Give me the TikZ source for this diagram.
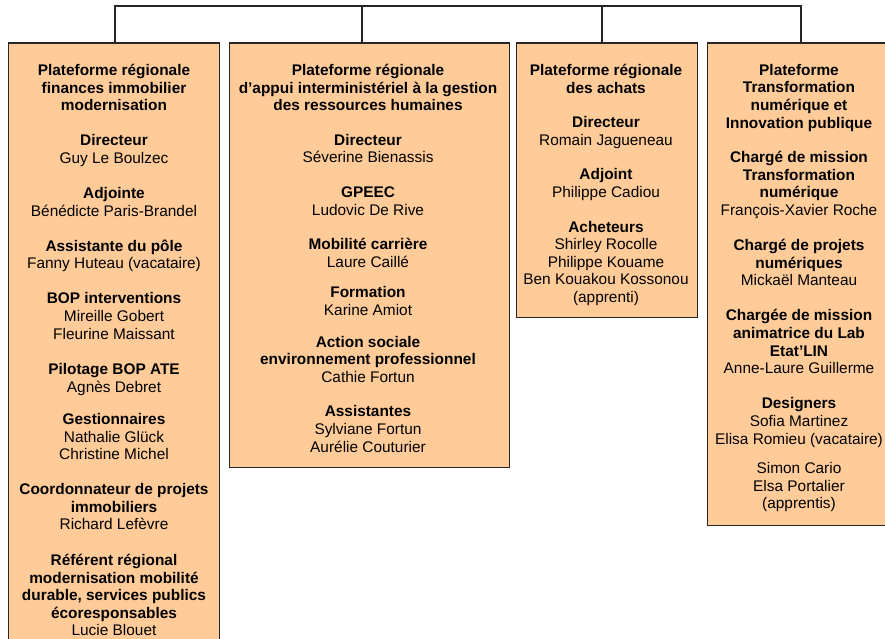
\documentclass[tikz,border=0pt]{standalone}
\usepackage{fontspec}
\setmainfont{Liberation Sans}
\usetikzlibrary{positioning}
\definecolor{peach}{RGB}{255,204,153}

\begin{document}
\begin{tikzpicture}[x=1pt,y=1pt,yscale=-1,
  pole/.style = {draw=black!85, line width=1.3pt, fill=peach,
  anchor=north west, inner sep=0pt},
  info/.style = {align=center, anchor=north, inner sep=0pt,
  font=\fontsize{15.4}{17.6}\selectfont},
  link/.style = {line width=1.3pt, draw=black!85}]
  \useasboundingbox (0,0) rectangle (885,639);

  \node[pole, minimum width=211pt, minimum height=610pt] (b1) at (8,42.5) {};
  \node[pole, minimum width=280pt, minimum height=424.5pt] (b2) at (229,42.5) {};
  \node[pole, minimum width=181pt, minimum height=274.5pt] (b3) at (516,42.5) {};
  \node[pole, minimum width=186pt, minimum height=482.5pt] (b4) at (707,42.5) {};

  \coordinate (p1) at (115,6);
  \coordinate (p2) at (362,6);
  \coordinate (p3) at (602,6);
  \coordinate (p4) at (801,6);
  \draw[link] (p1 |- b1.north) -- (p1) -- (p4) -- (p4 |- b4.north);
  \foreach \i in {2,3}
    \draw[link] (p\i) -- (p\i |- b\i.north);

  \node[info] (t1) at (114,64) {\textbf{Plateforme régionale}\\
    \textbf{finances immobilier}\\ \textbf{modernisation}\\[17.5pt]
    \textbf{Directeur}\\ Guy Le Boulzec\\[17.5pt]
    \textbf{Adjointe}\\ Bénédicte Paris-Brandel\\[17.5pt]
    \textbf{Assistante du pôle}\\ Fanny Huteau (vacataire)\\[17.5pt]
    \textbf{BOP interventions}\\ Mireille Gobert\\ Fleurine Maissant\\[18pt]
    \textbf{Pilotage BOP ATE}\\ Agnès Debret\\[14.5pt]
    \textbf{Gestionnaires}\\ Nathalie Glück\\ Christine Michel\\[17.5pt]
    \textbf{Coordonnateur de projets}\\ \textbf{immobiliers}\\
    Richard Lefèvre\\[18pt]
    \textbf{Référent régional}\\ \textbf{modernisation mobilité}\\
    \textbf{durable, services publics}\\ \textbf{écoresponsables}\\
    Lucie Blouet};

  \node[info] (t2) at (368,64) {\textbf{Plateforme régionale}\\
    \textbf{d’appui interministériel à la gestion}\\
    \textbf{des ressources humaines}\\[17pt]
    \textbf{Directeur}\\ Séverine Bienassis\\[17pt]
    \textbf{GPEEC}\\ Ludovic De Rive\\[17pt]
    \textbf{Mobilité carrière}\\ Laure Caillé\\[13pt]
    \textbf{Formation}\\ Karine Amiot\\[14pt]
    \textbf{Action sociale}\\ \textbf{environnement professionnel}\\
    Cathie Fortun\\[17pt]
    \textbf{Assistantes}\\ Sylviane Fortun\\ Aurélie Couturier};

  \node[info] (t3) at (606,64) {\textbf{Plateforme régionale}\\
    \textbf{des achats}\\[17pt]
    \textbf{Directeur}\\ Romain Jagueneau\\[17pt]
    \textbf{Adjoint}\\ Philippe Cadiou\\[17pt]
    \textbf{Acheteurs}\\ Shirley Rocolle\\ Philippe Kouame\\
    Ben Kouakou Kossonou\\ (apprenti)};

  \node[info] (t4) at (799,64) {\textbf{Plateforme}\\
    \textbf{Transformation}\\ \textbf{numérique et}\\
    \textbf{Innovation publique}\\[17pt]
    \textbf{Chargé de mission}\\ \textbf{Transformation}\\
    \textbf{numérique}\\ François-Xavier Roche\\[17.5pt]
    \textbf{Chargé de projets}\\ \textbf{numériques}\\
    Mickaël Manteau\\[17.5pt]
    \textbf{Chargée de mission}\\ \textbf{animatrice du Lab}\\
    \textbf{Etat’LIN}\\ Anne-Laure Guillerme\\[17.5pt]
    \textbf{Designers}\\ Sofia Martinez\\ Elisa Romieu (vacataire)\\[12pt]
    Simon Cario\\ Elsa Portalier\\ (apprentis)};
\end{tikzpicture}
\end{document}
